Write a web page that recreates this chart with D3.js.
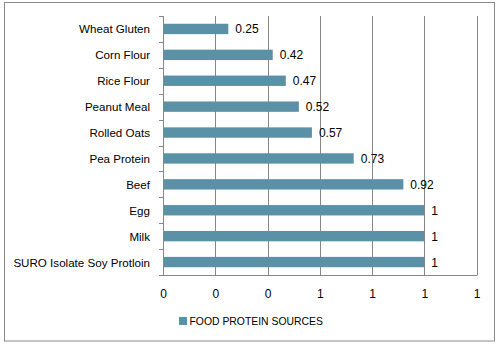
<!DOCTYPE html>
<html>
<head>
<meta charset="utf-8">
<script src="https://cdn.jsdelivr.net/npm/d3@7"></script>
<style>
  body { margin: 0; background: #fff; }
  svg { display: block; font-family: "Liberation Sans", Arial, sans-serif; }
</style>
</head>
<body>
<div id="chart"></div>
<script>
// data, top to bottom as drawn
const categories = ["Wheat Gluten", "Corn Flour", "Rice Flour", "Peanut Meal", "Rolled Oats",
    "Pea Protein", "Beef", "Egg", "Milk", "SURO Isolate Soy Protloin"];
const values = [0.25, 0.42, 0.47, 0.52, 0.57, 0.73, 0.92, 1, 1, 1];
const valueLabels = ["0.25", "0.42", "0.47", "0.52", "0.57", "0.73", "0.92", "1", "1", "1"];
const xTicks = [0, 0.2, 0.4, 0.6, 0.8, 1.0, 1.2];
const seriesName = "FOOD PROTEIN SOURCES";

const width = 499, height = 347;
const margin = { top: 16, right: 22.5, bottom: 72, left: 163 };
const barColor = "#5B91A6";
const gridColor = "#878787";

const svg = d3.select("#chart")
    .append("svg")
    .attr("width", width)
    .attr("height", height);

// outer frame
svg.append("rect")
    .attr("x", 4.5).attr("y", 2.5)
    .attr("width", 490).attr("height", 338.5)
    .attr("fill", "#fff")
    .attr("stroke", "#8a8a8a")
    .attr("stroke-width", 1);

const x = d3.scaleLinear()
    .domain([0, 1.2])
    .range([margin.left, width - margin.right]);

const y = d3.scaleBand()
    .domain(categories)
    .range([margin.top, height - margin.bottom])
    .paddingInner(0.6)
    .paddingOuter(0.3);

const plotBottom = height - margin.bottom;

// vertical gridlines
svg.append("g")
    .selectAll("line")
    .data(xTicks.slice(1))
    .join("line")
    .attr("x1", d => Math.round(x(d)) + 0.5)
    .attr("x2", d => Math.round(x(d)) + 0.5)
    .attr("y1", margin.top)
    .attr("y2", plotBottom)
    .attr("stroke", gridColor);

// bars
svg.append("g")
    .selectAll("rect")
    .data(values)
    .join("rect")
    .attr("x", x(0))
    .attr("y", (d, i) => y(categories[i]))
    .attr("width", d => x(d) - x(0))
    .attr("height", y.bandwidth())
    .attr("fill", barColor);

// value labels
svg.append("g")
    .selectAll("text")
    .data(values)
    .join("text")
    .attr("x", d => x(d) + 7)
    .attr("y", (d, i) => y(categories[i]) + y.bandwidth() / 2 + 4.5)
    .attr("font-size", "12px")
    .attr("fill", "#000")
    .text((d, i) => valueLabels[i]);

// y axis with ticks at band edges
const edges = d3.range(categories.length + 1).map(i => margin.top + i * (plotBottom - margin.top) / categories.length);
const yAxis = svg.append("g");
yAxis.append("line")
    .attr("x1", Math.round(x(0)) + 0.5).attr("x2", Math.round(x(0)) + 0.5)
    .attr("y1", margin.top).attr("y2", plotBottom)
    .attr("stroke", gridColor);
yAxis.selectAll("line.tick")
    .data(edges)
    .join("line")
    .attr("class", "tick")
    .attr("x1", Math.round(x(0)) - 4)
    .attr("x2", Math.round(x(0)) + 0.5)
    .attr("y1", d => Math.round(d) + 0.5)
    .attr("y2", d => Math.round(d) + 0.5)
    .attr("stroke", gridColor);
yAxis.selectAll("text")
    .data(categories)
    .join("text")
    .attr("x", 150)
    .attr("y", d => y(d) + y.bandwidth() / 2 + 4.5)
    .attr("text-anchor", "end")
    .attr("font-size", "11.6px")
    .attr("fill", "#000")
    .text(d => d);

// x axis
svg.append("g")
    .attr("transform", `translate(0,${Math.round(plotBottom) + 0.5})`)
    .call(d3.axisBottom(x)
        .tickValues(xTicks)
        .tickFormat(d3.format(".0f"))
        .tickSize(0)
        .tickPadding(14))
    .call(g => g.select(".domain").attr("stroke", gridColor).attr("d", `M${x(0)},0H${x(1.2) + 1}`))
    .call(g => g.selectAll("text")
        .attr("font-size", "12px")
        .attr("font-family", "Liberation Sans, Arial, sans-serif")
        .attr("fill", "#000"));

// legend
const legend = svg.append("g").attr("transform", "translate(179,317)");
legend.append("rect")
    .attr("width", 8).attr("height", 8)
    .attr("fill", barColor);
legend.append("text")
    .attr("x", 10.5).attr("y", 8.3)
    .attr("font-size", "10.4px")
    .attr("fill", "#000")
    .text(seriesName);
</script>
</body>
</html>
